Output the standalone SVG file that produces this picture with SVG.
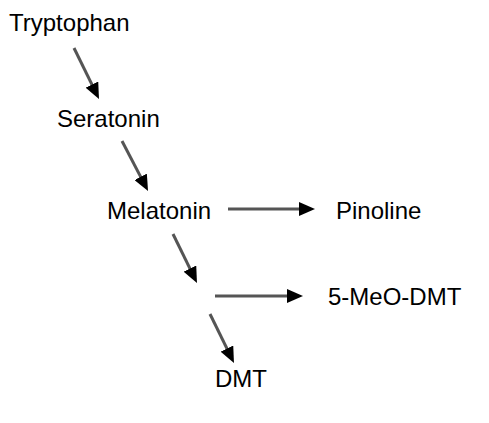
<svg xmlns="http://www.w3.org/2000/svg" width="489" height="423" viewBox="0 0 489 423">
<style>
.lbl{font-family:"Liberation Sans",Arial,sans-serif;font-size:24px;fill:#000}
.edge{stroke:#555;stroke-width:3;fill:none;marker-end:url(#ah)}
</style>
<defs>
<marker id="ah" viewBox="0 0 16 14" refX="4" refY="7" markerWidth="16" markerHeight="14" markerUnits="userSpaceOnUse" orient="auto">
<path d="M0,0 L16,7 L0,14 z" fill="#000"/>
</marker>
</defs>
<rect width="489" height="423" fill="#fff"/>
<g id="connectors">
<line class="edge" x1="74" y1="48" x2="93.7" y2="88.2"/>
<line class="edge" x1="122" y1="141" x2="142.5" y2="180.4"/>
<line class="edge" x1="228" y1="209" x2="303" y2="209"/>
<line class="edge" x1="173" y1="234" x2="191.7" y2="272.2"/>
<line class="edge" x1="215" y1="296" x2="291" y2="296"/>
<line class="edge" x1="210" y1="314" x2="228.7" y2="352.2"/>
</g>
<g id="tryptophan"><text class="lbl" x="9" y="31">Tryptophan</text></g>
<g id="seratonin"><text class="lbl" x="57" y="127">Seratonin</text></g>
<g id="melatonin"><text class="lbl" x="107" y="219">Melatonin</text></g>
<g id="pinoline"><text class="lbl" x="336" y="219">Pinoline</text></g>
<g id="meo-dmt"><text class="lbl" x="328" y="305">5-MeO-DMT</text></g>
<g id="dmt"><text class="lbl" x="215" y="387">DMT</text></g>
</svg>
